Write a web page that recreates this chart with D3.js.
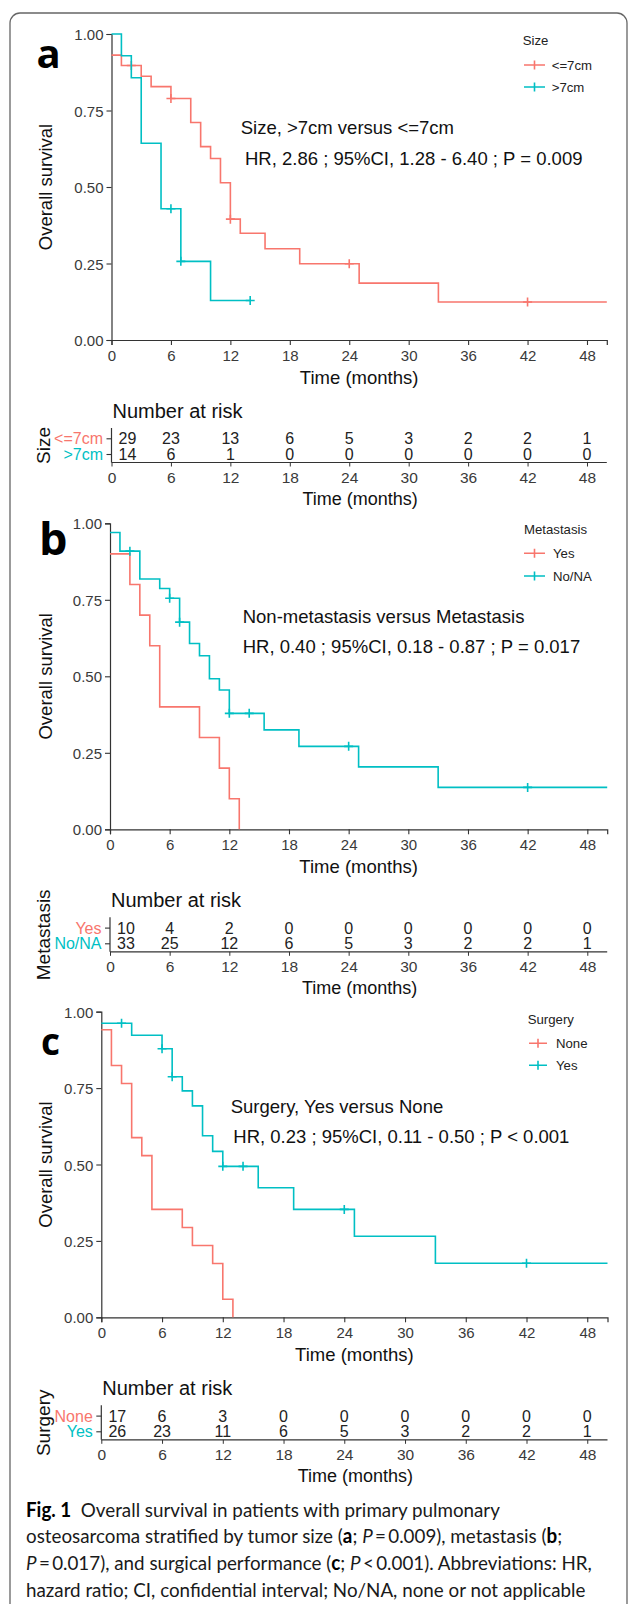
<!DOCTYPE html>
<html><head><meta charset="utf-8">
<script src="https://cdn.jsdelivr.net/npm/d3@7"></script>
<style>
html,body{margin:0;padding:0;background:#fff;}
svg{display:block;}
text{font-family:"Liberation Sans",Arial,sans-serif;}
</style></head>
<body>
<svg id="chart" width="629" height="1604"></svg>
<script>
// ---------- DATA ----------
const timeTicks = [0, 6, 12, 18, 24, 30, 36, 42, 48];
const survTicks = [0, 0.25, 0.5, 0.75, 1];
const survTickLabels = ["0.00", "0.25", "0.50", "0.75", "1.00"];

// Panel a: Size
const sizeGroups = ["<=7cm", ">7cm"];
const sizeSmallCurve = [[0,0.931],[1,0.897],[3,0.862],[4,0.828],[6,0.789],[8,0.711],[9,0.632],[10,0.593],[11,0.514],[12,0.395],[13,0.349],[15.5,0.298],[19,0.249],[25,0.186],[33,0.124],[50,0.124]];
const sizeLargeCurve = [[0,1],[1,0.929],[2,0.857],[3,0.643],[5,0.429],[7,0.257],[10,0.129],[14,0.129]];
const sizeSmallCensor = [2, 6, 12, 24, 42];
const sizeLargeCensor = [6, 7, 14];
const sizeSmallRisk = [29, 23, 13, 6, 5, 3, 2, 2, 1];
const sizeLargeRisk = [14, 6, 1, 0, 0, 0, 0, 0, 0];

// Panel b: Metastasis
const metGroups = ["Yes", "No/NA"];
const metYesCurve = [[0,0.9],[2,0.8],[3,0.7],[4,0.6],[5,0.4],[9,0.3],[11,0.2],[12,0.1],[13,0]];
const metNoCurve = [[0,0.970],[1,0.909],[3,0.818],[5,0.787],[6,0.755],[7,0.677],[8,0.607],[9,0.567],[10,0.492],[11,0.455],[12,0.379],[15.5,0.325],[19,0.271],[25,0.204],[33,0.137],[50,0.137]];
const metYesCensor = [];
const metNoCensor = [2, 6, 7, 12, 14, 24, 42];
const metYesRisk = [10, 4, 2, 0, 0, 0, 0, 0, 0];
const metNoRisk = [33, 25, 12, 6, 5, 3, 2, 2, 1];

// Panel c: Surgery
const surgGroups = ["None", "Yes"];
const surgNoneCurve = [[0,0.941],[1,0.824],[2,0.765],[3,0.588],[4,0.529],[5,0.353],[8,0.294],[9,0.235],[11,0.176],[12,0.059],[13,0]];
const surgYesCurve = [[0,0.962],[3,0.923],[6,0.879],[7,0.787],[8,0.741],[9,0.692],[10,0.594],[11,0.543],[12,0.494],[15.5,0.424],[19,0.353],[25,0.265],[33,0.177],[50,0.177]];
const surgNoneCensor = [];
const surgYesCensor = [2, 6, 7, 12, 14, 24, 42];
const surgNoneRisk = [17, 6, 3, 0, 0, 0, 0, 0, 0];
const surgYesRisk = [26, 23, 11, 6, 5, 3, 2, 2, 1];

const annotations = {
  a: ["Size, >7cm versus <=7cm", "HR, 2.86 ; 95%CI, 1.28 - 6.40 ; P = 0.009"],
  b: ["Non-metastasis versus Metastasis", "HR, 0.40 ; 95%CI, 0.18 - 0.87 ; P = 0.017"],
  c: ["Surgery, Yes versus None", "HR, 0.23 ; 95%CI, 0.11 - 0.50 ; P < 0.001"]
};

// ---------- STYLE / LAYOUT ----------
const RED = "#F8766D", CYAN = "#00BFC4";
const AX = "#333";
const svg = d3.select("#chart");

// frame
svg.append("rect").attr("x", 10).attr("y", 13).attr("width", 617).attr("height", 1640)
  .attr("rx", 10).attr("fill", "none").attr("stroke", "#666").attr("stroke-width", 1.3);

const panels = [
  { key: "a", title: "Size", groups: sizeGroups,
    curves: [sizeSmallCurve, sizeLargeCurve], censors: [sizeSmallCensor, sizeLargeCensor], risks: [sizeSmallRisk, sizeLargeRisk],
    x0: 111.5, x1: 606.8, yTop: 34, yBot: 340,
    lab: { x: 36.5, y: 68.3, size: 40 },
    leg: { tx: 522.7, ty: 40.7, iy: [65, 87], s0: 524, s1: 545, txt: 551.7 },
    ann: { x: [240.7, 245], y: [127.5, 158] } },
  { key: "b", title: "Metastasis", groups: metGroups,
    curves: [metYesCurve, metNoCurve], censors: [metYesCensor, metNoCensor], risks: [metYesRisk, metNoRisk],
    x0: 110, x1: 607.2, yTop: 523.3, yBot: 829.3,
    lab: { x: 39, y: 555, size: 45 },
    leg: { tx: 524, ty: 529.3, iy: [553.3, 576], s0: 524, s1: 545, txt: 553 },
    ann: { x: [242.7, 242.7], y: [616.7, 646.7] } },
  { key: "c", title: "Surgery", groups: surgGroups,
    curves: [surgNoneCurve, surgYesCurve], censors: [surgNoneCensor, surgYesCensor], risks: [surgNoneRisk, surgYesRisk],
    x0: 101.3, x1: 607.5, yTop: 1011.7, yBot: 1317.3,
    lab: { x: 41, y: 1055, size: 37 },
    leg: { tx: 527.7, ty: 1019.3, iy: [1043.3, 1065.3], s0: 529, s1: 547, txt: 556 },
    ann: { x: [230.7, 233.3], y: [1106, 1136] } }
];
const colors = [RED, CYAN];

function stepVal(data, t) {
  let v = data[0][1];
  for (const d of data) if (d[0] <= t) v = d[1];
  return v;
}

panels.forEach(p => {
  const x = d3.scaleLinear().domain([0, 50]).range([p.x0, p.x1]);
  const y = d3.scaleLinear().domain([0, 1]).range([p.yBot, p.yTop]);
  const g = svg.append("g");

  // axes
  const xAxis = d3.axisBottom(x).tickValues(timeTicks).tickSize(5).tickPadding(3);
  const gx = g.append("g").attr("transform", `translate(0,${p.yBot})`).call(xAxis);
  const yAxis = d3.axisLeft(y).tickValues(survTicks).tickFormat((d, i) => survTickLabels[i]).tickSize(5).tickPadding(3);
  const gy = g.append("g").attr("transform", `translate(${p.x0},0)`).call(yAxis);
  [gx, gy].forEach(a => {
    a.select(".domain").attr("stroke", AX).attr("stroke-width", 1.2);
    a.selectAll(".tick line").attr("stroke", AX).attr("stroke-width", 1.1);
    a.selectAll(".tick text").attr("fill", "#3a3a3a").style("font-size", "15px")
      .style("font-family", '"Liberation Sans",Arial,sans-serif');
  });
  gx.selectAll(".tick text").attr("dy", null).attr("y", 15).attr("dominant-baseline", "central");
  gy.selectAll(".tick text").attr("dy", null).attr("dominant-baseline", "central");

  // axis titles
  g.append("text").attr("x", (p.x0 + p.x1) / 2).attr("y", p.yBot + 37).attr("text-anchor", "middle")
    .attr("dominant-baseline", "central").style("font-size", "18.5px").attr("fill", "#111").text("Time (months)");
  g.append("text").attr("transform", `translate(45,${(p.yTop + p.yBot) / 2}) rotate(-90)`)
    .attr("text-anchor", "middle").attr("dominant-baseline", "central")
    .style("font-size", "18.5px").attr("fill", "#111").text("Overall survival");

  // curves
  const line = d3.line().x(d => x(d[0])).y(d => y(d[1])).curve(d3.curveStepAfter);
  p.curves.forEach((c, i) => {
    g.append("path").datum(c).attr("d", line).attr("fill", "none")
      .attr("stroke", colors[i]).attr("stroke-width", 1.6);
    g.selectAll(null).data(p.censors[i]).enter().append("path")
      .attr("d", t => {
        const cx = x(t), cy = y(stepVal(c, t));
        return `M${cx - 4.5},${cy}H${cx + 4.5}M${cx},${cy - 4.5}V${cy + 4.5}`;
      })
      .attr("stroke", colors[i]).attr("stroke-width", 1.6).attr("fill", "none");
  });

  // panel label
  g.append("text").attr("x", p.lab.x).attr("y", p.lab.y)
    .style("font-family", '"Open Sans","Noto Sans",sans-serif').style("font-weight", "700")
    .style("font-size", p.lab.size + "px").attr("fill", "#000").text(p.key);

  // legend
  g.append("text").attr("x", p.leg.tx).attr("y", p.leg.ty).attr("dominant-baseline", "central")
    .style("font-size", "13.2px").attr("fill", "#222").text(p.title);
  p.groups.forEach((gr, i) => {
    const yy = p.leg.iy[i], mx = (p.leg.s0 + p.leg.s1) / 2;
    g.append("path").attr("d", `M${p.leg.s0},${yy}H${p.leg.s1}M${mx},${yy - 4.5}V${yy + 4.5}`)
      .attr("stroke", colors[i]).attr("stroke-width", 1.6).attr("fill", "none");
    g.append("text").attr("x", p.leg.txt).attr("y", yy).attr("dominant-baseline", "central")
      .style("font-size", "13.2px").attr("fill", "#222").text(gr);
  });

  // annotation
  annotations[p.key].forEach((t, i) => {
    g.append("text").attr("x", p.ann.x[i]).attr("y", p.ann.y[i]).attr("dominant-baseline", "central")
      .style("font-size", "18.5px").attr("fill", "#111").text(t);
  });

  // ---------- risk table ----------
  const tb = svg.append("g");
  const b = p.yBot;
  const rowY = [b + 98.8, b + 114.5];
  const axY = b + 122.5;
  tb.append("text").attr("x", p.x0 + 1).attr("y", b + 70.5).attr("dominant-baseline", "central")
    .style("font-size", "20px").attr("fill", "#111").text("Number at risk");
  // y axis
  tb.append("line").attr("x1", p.x0).attr("x2", p.x0).attr("y1", b + 88).attr("y2", axY)
    .attr("stroke", AX).attr("stroke-width", 1.2);
  const tAxis = d3.axisBottom(x).tickValues(timeTicks).tickSize(4).tickPadding(3);
  const gt = tb.append("g").attr("transform", `translate(0,${axY})`).call(tAxis);
  gt.select(".domain").attr("stroke", AX).attr("stroke-width", 1.2).attr("d", `M${p.x0},0H${p.x1}`);
  gt.selectAll(".tick line").attr("stroke", AX);
  gt.selectAll(".tick text").attr("dy", null).attr("y", 15).attr("dominant-baseline", "central")
    .attr("fill", "#3a3a3a").style("font-size", "15.5px").style("font-family", '"Liberation Sans",Arial,sans-serif');
  tb.append("text").attr("x", (p.x0 + p.x1) / 2 + 1).attr("y", b + 159).attr("text-anchor", "middle")
    .attr("dominant-baseline", "central").style("font-size", "18px").attr("fill", "#111").text("Time (months)");
  p.groups.forEach((gr, i) => {
    tb.append("line").attr("x1", p.x0 - 5).attr("x2", p.x0).attr("y1", rowY[i]).attr("y2", rowY[i])
      .attr("stroke", AX).attr("stroke-width", 1.1);
    tb.append("text").attr("x", p.x0 - 8.5).attr("y", rowY[i]).attr("text-anchor", "end")
      .attr("dominant-baseline", "central").style("font-size", "16px").attr("fill", colors[i]).text(gr);
    tb.selectAll(null).data(p.risks[i]).enter().append("text")
      .attr("x", (d, j) => x(timeTicks[j]) + (j === 0 ? 16 : 0))
      .attr("y", rowY[i]).attr("text-anchor", "middle").attr("dominant-baseline", "central")
      .style("font-size", "16px").attr("fill", "#222").text(d => d);
  });
  tb.append("text").attr("transform", `translate(43.5,${b + 105.5}) rotate(-90)`)
    .attr("text-anchor", "middle").attr("dominant-baseline", "central")
    .style("font-size", "19px").attr("fill", "#111").text(p.title);
});

// ---------- caption ----------
const capFont = '"Lato","Open Sans",sans-serif';
const capLines = [
  [["Fig. 1", "b"], ["  Overall survival in patients with primary pulmonary", ""]],
  [["osteosarcoma stratified by tumor size (", ""], ["a", "b"], ["; ", ""], ["P", "i"], ["\u2009=\u20090.009), metastasis (", ""], ["b", "b"], [";", ""]],
  [["P", "i"], ["\u2009=\u20090.017), and surgical performance (", ""], ["c", "b"], ["; ", ""], ["P", "i"], ["\u2009<\u20090.001). Abbreviations: HR,", ""]],
  [["hazard ratio; CI, confidential interval; No/NA, none or not applicable", ""]]
];
const capY = [1508.3, 1535, 1561.7, 1588.3];
// measure for horizontal scale
const probe = svg.append("text").style("font-family", capFont).style("font-size", "20px")
  .text("hazard ratio; CI, confidential interva");
const pw = probe.node().getComputedTextLength();
probe.remove();
const sx = 293 / pw;
capLines.forEach((ln, i) => {
  const t = svg.append("text").attr("transform", `translate(26,${capY[i]}) scale(${sx},1)`)
    .attr("dominant-baseline", "central").style("font-family", capFont).style("font-size", "20px")
    .attr("fill", "#1a1a1a").attr("xml:space", "preserve").style("white-space", "pre");
  ln.forEach(([s, st]) => {
    const ts = t.append("tspan").text(s);
    if (st === "b") ts.style("font-weight", "700").attr("fill", "#000");
    if (st === "i") ts.style("font-style", "italic");
  });
});
</script>
</body></html>
